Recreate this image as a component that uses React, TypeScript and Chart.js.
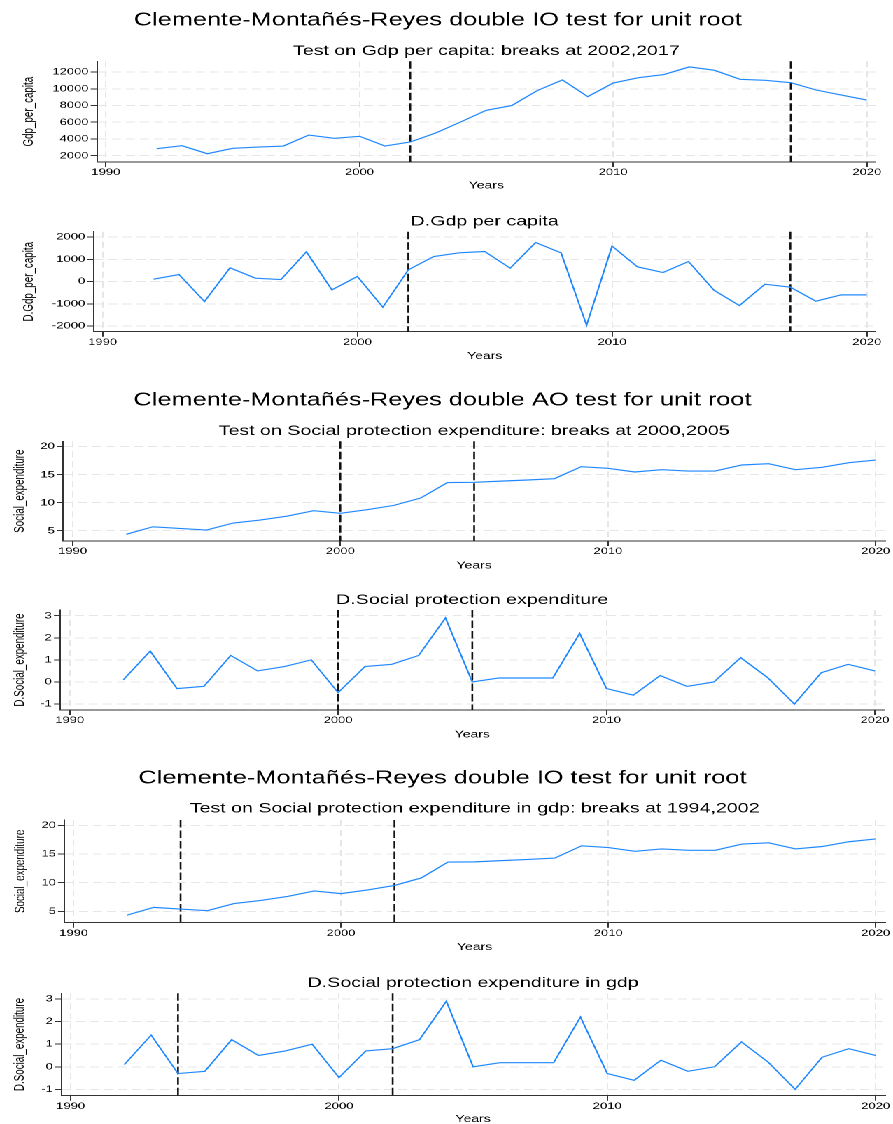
import React, { useEffect, useRef } from "react";
import { Chart, registerables } from "chart.js";

Chart.register(...registerables);

const FONT = "'Liberation Sans', Arial, Helvetica, sans-serif";
const PAGE_W = 893;
const BASE_W = 638;
const SX = PAGE_W / BASE_W;

const BLUE = "#1f88ff";
const GRID = "#e6e6e6";
const AXIS = "#333333";
const TXT = "#000000";

// ---- data ----
const years = [
  1992, 1993, 1994, 1995, 1996, 1997, 1998, 1999, 2000, 2001, 2002, 2003, 2004, 2005, 2006,
  2007, 2008, 2009, 2010, 2011, 2012, 2013, 2014, 2015, 2016, 2017, 2018, 2019, 2020,
];
const gdpPerCapita = [
  2840, 3195, 2240, 2880, 3040, 3160, 4470, 4080, 4320, 3160, 3640, 4720, 6050, 7430, 7990,
  9770, 11045, 9060, 10680, 11320, 11700, 12610, 12200, 11130, 11010, 10720, 9850, 9250, 8650,
];
const dGdpPerCapita = [
  105, 315, -900, 615, 150, 90, 1335, -375, 225, -1155, 525, 1125, 1290, 1350, 600, 1755, 1290,
  -1965, 1590, 660, 405, 900, -390, -1080, -120, -255, -885, -600, -600,
];
const socialExpenditure = [
  4.35, 5.7, 5.4, 5.12, 6.37, 6.9, 7.6, 8.57, 8.1, 8.75, 9.52, 10.83, 13.6, 13.63, 13.85, 14.05,
  14.29, 16.43, 16.13, 15.48, 15.89, 15.65, 15.65, 16.73, 16.96, 15.89, 16.31, 17.14, 17.62,
];
const dSocialExpenditure = [
  0.1, 1.4, -0.3, -0.2, 1.2, 0.5, 0.7, 1.0, -0.48, 0.7, 0.8, 1.2, 2.9, 0, 0.18, 0.18, 0.18, 2.2,
  -0.3, -0.6, 0.29, -0.2, 0, 1.1, 0.2, -1.0, 0.42, 0.8, 0.5,
];

const xTicks = [1990, 2000, 2010, 2020];
const gdpTicks = [2000, 4000, 6000, 8000, 10000, 12000];
const dGdpTicks = [-2000, -1000, 0, 1000, 2000];
const socialTicks = [5, 10, 15, 20];
const dSocialTicks = [-1, 0, 1, 2, 3];

const breaksGdp = [2002, 2017];
const breaksSocialAO = [2000, 2005];
const breaksSocialIO = [1994, 2002];

const groupTitles = [
  "Clemente-Montañés-Reyes double IO test for unit root",
  "Clemente-Montañés-Reyes double AO test for unit root",
  "Clemente-Montañés-Reyes double IO test for unit root",
];
const panelTitles = [
  "Test on Gdp per capita: breaks at 2002,2017",
  "D.Gdp per capita",
  "Test on Social protection expenditure: breaks at 2000,2005",
  "D.Social protection expenditure",
  "Test on Social protection expenditure in gdp: breaks at 1994,2002",
  "D.Social protection expenditure in gdp",
];
const yTitles = [
  "Gdp_per_capita",
  "D.Gdp_per_capita",
  "Social_expenditure",
  "D.Social_expenditure",
  "Social_expenditure",
  "D.Social_expenditure",
];

type PanelSpec = {
  top: number;
  bottom: number;
  plotTop: number;
  plotBottom: number;
  plotLeft: number;
  plotRight: number;
  group?: string;
  groupMid?: number;
  sub: string;
  subMid: number;
  yTitle: string;
  yTitleX: number;
  yearsMid: number;
  values: number[];
  yTicks: number[];
  yMin: number;
  yMax: number;
  breaks: number[];
};

const panels: PanelSpec[] = [
  { top: 0, bottom: 192, plotTop: 61.3, plotBottom: 162, plotLeft: 97, plotRight: 875.7,
    group: groupTitles[0], groupMid: 20.7, sub: panelTitles[0], subMid: 51, yTitle: yTitles[0],
    yTitleX: 29, yearsMid: 185.5, values: gdpPerCapita, yTicks: gdpTicks, yMin: 1250, yMax: 13280,
    breaks: breaksGdp },
  { top: 192, bottom: 362, plotTop: 231.7, plotBottom: 331.7, plotLeft: 93.7, plotRight: 875.7,
    sub: panelTitles[1], subMid: 221.7, yTitle: yTitles[1], yTitleX: 29, yearsMid: 356,
    values: dGdpPerCapita, yTicks: dGdpTicks, yMin: -2256, yMax: 2240, breaks: breaksGdp },
  { top: 370, bottom: 572, plotTop: 441.3, plotBottom: 541, plotLeft: 63.3, plotRight: 885,
    group: groupTitles[1], groupMid: 400.7, sub: panelTitles[2], subMid: 431, yTitle: yTitles[2],
    yTitleX: 20, yearsMid: 565.5, values: socialExpenditure, yTicks: socialTicks, yMin: 3.16,
    yMax: 20.96, breaks: breaksSocialAO },
  { top: 572, bottom: 742, plotTop: 610, plotBottom: 710, plotLeft: 60.3, plotRight: 884.3,
    sub: panelTitles[3], subMid: 600, yTitle: yTitles[3], yTitleX: 20, yearsMid: 734.5,
    values: dSocialExpenditure, yTicks: dSocialTicks, yMin: -1.27, yMax: 3.26,
    breaks: breaksSocialAO },
  { top: 750, bottom: 953, plotTop: 820, plotBottom: 922.7, plotLeft: 64.3, plotRight: 885,
    group: groupTitles[2], groupMid: 778.3, sub: panelTitles[4], subMid: 808.7, yTitle: yTitles[4],
    yTitleX: 21, yearsMid: 947, values: socialExpenditure, yTicks: socialTicks, yMin: 3.03,
    yMax: 20.93, breaks: breaksSocialIO },
  { top: 953, bottom: 1124, plotTop: 993.3, plotBottom: 1095.7, plotLeft: 61.3, plotRight: 885,
    sub: panelTitles[5], subMid: 983, yTitle: yTitles[5], yTitleX: 20, yearsMid: 1120,
    values: dSocialExpenditure, yTicks: dSocialTicks, yMin: -1.28, yMax: 3.25,
    breaks: breaksSocialIO },
];

function Panel({ spec }: { spec: PanelSpec }) {
  const ref = useRef<HTMLCanvasElement | null>(null);
  const height = spec.bottom - spec.top;

  useEffect(() => {
    const canvas = ref.current;
    if (!canvas) return;
    const ct = spec.top;
    const G = 18.1;
    const T = 14;
    const YF = 10;
    const YT = 9.8;
    const TICKF = 9.3;
    const subPadBottom = spec.plotTop - (spec.subMid + T / 2);
    const fontOf = (size: number) => ({ family: FONT, size, weight: "normal" as const, lineHeight: 1 });

    let title: any;
    let subtitle: any;
    if (spec.group) {
      const gMid = spec.groupMid as number;
      const gEnd = gMid + G / 2;
      title = {
        display: true, text: spec.group, fullSize: true, color: "#000", font: fontOf(G),
        padding: { top: gMid - ct - G / 2, bottom: 0 },
      };
      subtitle = {
        display: true, text: spec.sub, fullSize: false, color: "#000", font: fontOf(T),
        padding: { top: spec.subMid - T / 2 - gEnd, bottom: subPadBottom },
      };
    } else {
      title = {
        display: true, text: spec.sub, fullSize: false, color: "#000", font: fontOf(T),
        padding: { top: spec.subMid - ct - T / 2, bottom: subPadBottom },
      };
      subtitle = { display: false };
    }

    const breaks = spec.breaks;
    const breakPlugin = {
      id: "breakLines",
      beforeDatasetsDraw(chart: any) {
        const { ctx, chartArea, scales } = chart;
        const xs = scales.x;
        ctx.save();
        ctx.strokeStyle = "#111111";
        ctx.lineWidth = 1.3;
        ctx.setLineDash([7.5, 3]);
        for (const b of breaks) {
          const px = xs.getPixelForValue(b);
          ctx.beginPath();
          ctx.moveTo(px, chartArea.top);
          ctx.lineTo(px, chartArea.bottom);
          ctx.stroke();
        }
        ctx.restore();
      },
    };

    const chart = new Chart(canvas, {
      type: "line",
      data: {
        datasets: [
          {
            data: years.map((x, i) => ({ x, y: spec.values[i] })),
            borderColor: BLUE,
            borderWidth: 1.15,
            pointRadius: 0,
            fill: false,
            tension: 0,
          },
        ],
      },
      options: {
        responsive: false,
        animation: false,
        devicePixelRatio: 2,
        layout: { padding: { left: 0, top: 0, bottom: 0, right: (PAGE_W - spec.plotRight) / SX } },
        plugins: {
          legend: { display: false },
          tooltip: { enabled: false },
          title,
          subtitle,
        },
        scales: {
          x: {
            type: "linear",
            min: 1989.65,
            max: 2020.35,
            afterBuildTicks: (s: any) => {
              s.ticks = xTicks.map((v) => ({ value: v }));
            },
            afterFit: (s: any) => {
              s.height = spec.bottom - spec.plotBottom;
            },
            grid: { color: GRID, lineWidth: 1, drawTicks: true, tickLength: 5, tickColor: AXIS, tickWidth: 1 },
            border: { display: true, color: AXIS, width: 1, dash: [6, 4] },
            ticks: {
              autoSkip: false, maxRotation: 0, minRotation: 0, padding: 1, color: TXT,
              font: fontOf(TICKF), callback: (v: any) => String(v),
            },
            title: {
              display: true, text: "Years", color: TXT, font: fontOf(YF),
              padding: { top: 0, bottom: Math.max(0, spec.bottom - spec.yearsMid - YF / 2) },
            },
          },
          y: {
            type: "linear",
            min: spec.yMin,
            max: spec.yMax,
            afterBuildTicks: (s: any) => {
              s.ticks = spec.yTicks.map((v) => ({ value: v }));
            },
            afterFit: (s: any) => {
              s.width = spec.plotLeft / SX;
            },
            grid: { color: GRID, lineWidth: 1, drawTicks: true, tickLength: 4.5, tickColor: AXIS, tickWidth: 1 },
            border: { display: true, color: AXIS, width: 1, dash: [6.4, 3.6] },
            ticks: {
              autoSkip: false, padding: 1.5, color: TXT, font: fontOf(TICKF),
              callback: (v: any) => String(v),
            },
            title: {
              display: true, text: spec.yTitle, color: TXT, font: fontOf(YT),
              padding: { top: spec.yTitleX / SX - YT / 2, bottom: 0 },
            },
          },
        },
      },
      plugins: [breakPlugin],
    } as any);

    return () => chart.destroy();
  }, [spec]);

  return (
    <canvas
      ref={ref}
      width={BASE_W}
      height={height}
      style={{ position: "absolute", left: 0, top: spec.top, width: BASE_W, height }}
    />
  );
}

export default function App() {
  return (
    <div
      style={{
        position: "absolute",
        left: 0,
        top: 0,
        width: BASE_W,
        height: 1124,
        background: "#ffffff",
        transform: `scaleX(${SX})`,
        transformOrigin: "0 0",
        overflow: "hidden",
      }}
    >
      {panels.map((p, i) => (
        <Panel key={i} spec={p} />
      ))}
    </div>
  );
}
